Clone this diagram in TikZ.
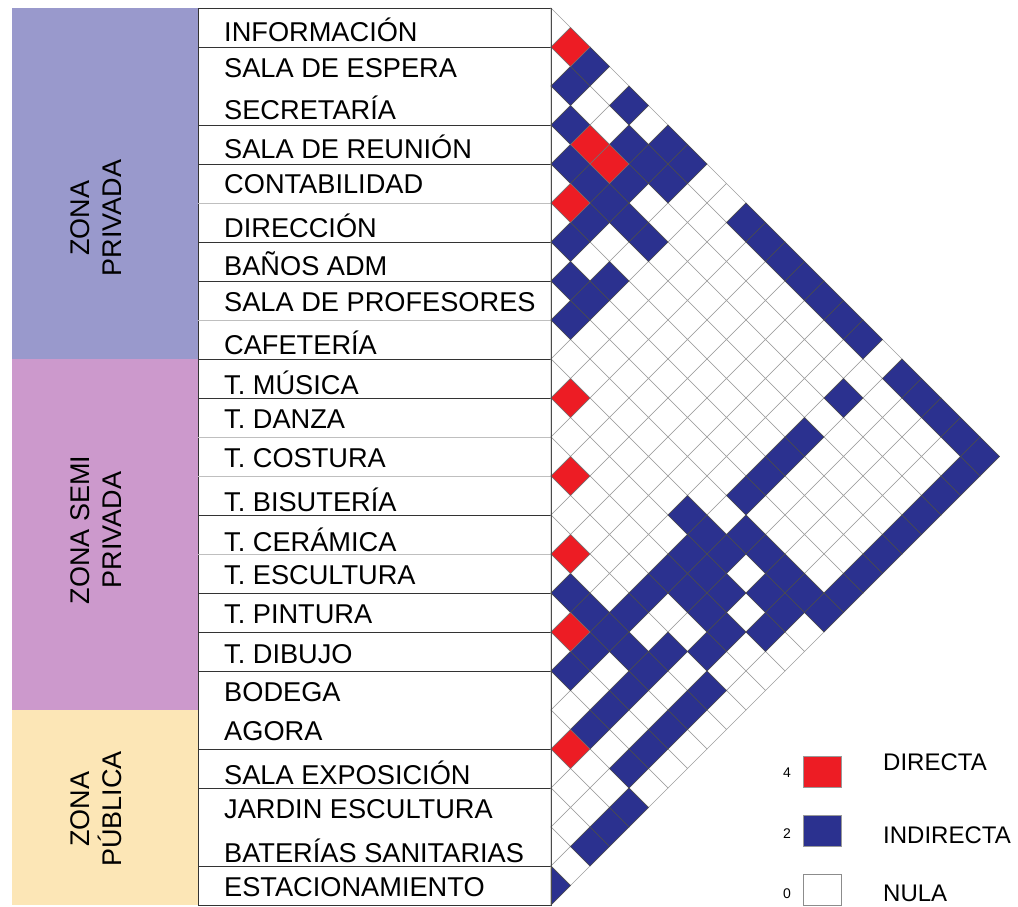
\documentclass[tikz,border=0pt]{standalone}
\usepackage{fontspec}
\setmainfont{Liberation Sans}
\definecolor{zpriv}{RGB}{153,153,204}
\definecolor{zsemi}{RGB}{204,153,204}
\definecolor{zpub}{RGB}{252,230,182}
\definecolor{cred}{RGB}{237,28,36}
\definecolor{cblue}{RGB}{43,49,143}
\tikzset{
  lbl/.style={anchor=base west, font=\fontsize{27.2}{30}\selectfont, inner sep=0pt},
  zonelbl/.style={rotate=90, align=center, font=\fontsize{27}{32}\selectfont, inner sep=0pt},
  gridc/.style={fill=white, draw=gray!75, line width=0.6pt},
  redc/.style={fill=cred, draw=black!55, line width=0.5pt},
  bluec/.style={fill=cblue, draw=black!70, line width=0.5pt},
  darkline/.style={draw=black!80, line width=0.7pt},
  lightline/.style={draw=black!25, line width=0.6pt},
  legtxt/.style={anchor=base west, font=\fontsize{24}{26}\selectfont, inner sep=0pt},
  legnum/.style={anchor=base, font=\fontsize{14}{16}\selectfont, inner sep=0pt},
}
\newcommand\dcell[3]{%
  \pgfmathsetmacro\dcx{551+19.5*(#2-#1)}%
  \pgfmathsetmacro\dcy{8+19.5*(#1+#2+1)}%
  \ifnum#1=#2\relax
    \path[#3] (551,\dcy-19.5) -- (\dcx+19.5,\dcy) -- (551,\dcy+19.5) -- cycle;
  \else
    \path[#3] (\dcx,\dcy-19.5) -- (\dcx+19.5,\dcy) -- (\dcx,\dcy+19.5) -- (\dcx-19.5,\dcy) -- cycle;
  \fi
}
\begin{document}
\begin{tikzpicture}[x=1pt,y=-1pt]
\useasboundingbox (0,0) rectangle (1018,906);
% zones
\fill[zpriv] (12,8) rectangle (198,359);
\fill[zsemi] (12,359) rectangle (198,710);
\fill[zpub] (12,710) rectangle (198,905);
\node[zonelbl] (zpr) at (96.5,218) {ZONA\\PRIVADA};
\node[zonelbl] (zse) at (96.5,530) {ZONA SEMI\\PRIVADA};
\node[zonelbl] (zpu) at (96.5,809) {ZONA\\PÚBLICA};
% label box
\draw[darkline] (198,8) rectangle (551,905);
\foreach \yy in {47,125,164,242,281,359,398,515,593,632,671,749,788,866}
  \draw[darkline] (198,\yy) -- (551,\yy);
\foreach \yy in {203,320,437,476,554}
  \draw[lightline] (198,\yy) -- (551,\yy);
% labels
\foreach \k/\b/\t in {0/41.5/INFORMACIÓN, 1/77/SALA DE ESPERA, 2/119/SECRETARÍA,
  3/158/SALA DE REUNIÓN, 4/193/CONTABILIDAD, 5/237/DIRECCIÓN, 6/275/BAÑOS ADM,
  7/311/SALA DE PROFESORES, 8/354/CAFETERÍA, 9/394/T. MÚSICA, 10/428/T. DANZA,
  11/467/T. COSTURA, 12/511/T. BISUTERÍA, 13/551/T. CERÁMICA, 14/584/T. ESCULTURA,
  15/623/T. PINTURA, 16/663/T. DIBUJO, 17/701/BODEGA, 18/740/AGORA,
  19/784/SALA EXPOSICIÓN, 20/818/JARDIN ESCULTURA, 21/862/BATERÍAS SANITARIAS,
  22/896/ESTACIONAMIENTO}
  \node[lbl] (r\k) at (224,\b) {\t};
% grid
\foreach \i in {0,...,22}{
  \foreach \j in {\i,...,22}{\dcell{\i}{\j}{gridc}}}
\foreach \i/\j in {0/2,0/4,0/6,0/7,0/10,0/11,0/12,0/13,0/14,0/15,0/16,0/18,0/19,0/20,0/21,0/22,
  1/2,1/5,1/6,1/7,1/22,
  2/3,2/6,2/17,2/22,
  3/4,3/5,3/6,3/7,3/8,3/22,
  4/6,4/17,4/22,
  5/6,5/8,5/17,5/22,
  6/7,6/8,6/17,6/22,
  7/8,7/17,7/22,
  8/18,8/19,8/20,8/21,8/22,
  9/16,9/17,9/18,9/20,9/21,
  10/17,10/18,10/19,10/21,
  11/17,11/18,11/19,11/20,
  12/17,12/20,
  13/17,13/19,13/21,
  14/15,14/16,14/17,14/18,14/19,14/21,
  15/17,15/19,15/21,
  16/17,16/19,16/21,
  17/19,17/21,
  18/22,19/22,20/22,22/22}
  {\dcell{\i}{\j}{bluec}}
\foreach \i/\j in {0/1,2/4,2/5,4/5,9/10,11/12,13/14,15/16,18/19}
  {\dcell{\i}{\j}{redc}}
\draw[draw=black!70, line width=0.7pt] (551,8) -- (551,905);
% legend
\node[legnum] (n4) at (787,777) {4};
\node[legnum] (n2) at (787,838) {2};
\node[legnum] (n0) at (787,898) {0};
\path[fill=cred, draw=black!40, line width=0.5pt] (803,756) rectangle (841,787);
\path[fill=cblue, draw=black!40, line width=0.5pt] (803,815) rectangle (841,846);
\path[fill=white, draw=black!45, line width=0.6pt] (803,874) rectangle (841,905);
\node[legtxt] (ld) at (883,770) {DIRECTA};
\node[legtxt] (li) at (883,843) {INDIRECTA};
\node[legtxt] (ln) at (883,901) {NULA};
\end{tikzpicture}
\end{document}
